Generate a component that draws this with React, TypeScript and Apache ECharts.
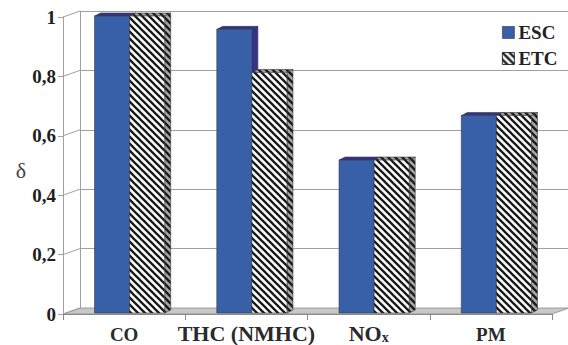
import React, { useEffect, useRef } from 'react';
import * as echarts from 'echarts';

const categories = ['CO', 'THC (NMHC)', 'NOx', 'PM'];
const escValues = [1.0, 0.955, 0.515, 0.665];
const etcValues = [1.0, 0.81, 0.515, 0.665];
const yTicks = [0, 0.2, 0.4, 0.6, 0.8, 1];
const seriesNames = ['ESC', 'ETC'];

const FONT = "'Liberation Serif', 'Times New Roman', serif";
const BLUE = '#3760a9';
const BLUE_SIDE = '#31338c';
const GRID_COLOR = '#a0a0a0';

// depth of the 3D box (front -> back wall)
const DX = 17;
const DY = -6;
// bar placement inside the depth
const SHIFT_X = 5.5;
const SHIFT_Y = -1;
const BD_X = 6;
const BD_Y = -3;
const BAR_FRAC = 0.287;

function makeHatch(bg: string, fg: string, size = 7, lw = 2.3) {
  const c = document.createElement('canvas');
  c.width = size;
  c.height = size;
  const ctx = c.getContext('2d')!;
  ctx.fillStyle = bg;
  ctx.fillRect(0, 0, size, size);
  ctx.strokeStyle = fg;
  ctx.lineWidth = lw;
  ctx.beginPath();
  for (const o of [-size, 0, size]) {
    ctx.moveTo(-1, o - 1);
    ctx.lineTo(size + 1, o + size + 1);
  }
  ctx.stroke();
  return { image: c, repeat: 'repeat', imageWidth: size, imageHeight: size } as any;
}

export default function App() {
  const ref = useRef<HTMLDivElement>(null);

  useEffect(() => {
    if (!ref.current) return;
    document.body.style.margin = '0';
    const chart = echarts.init(ref.current, undefined, { renderer: 'svg' });
    const hatch = makeHatch('#ffffff', '#1a1a1a');
    const hatchGray = makeHatch('#a8a8a8', '#1a1a1a');

    const makeBar = (front: any, top: any, side: any, left: boolean) => (params: any, api: any) => {
      const i = api.value(0);
      const v = api.value(1);
      const p = api.coord([i, v]);
      const b = api.coord([i, 0]);
      const bw = api.size([1, 0])[0] * BAR_FRAC;
      const x0 = p[0] + SHIFT_X - (left ? bw : 0);
      const yT = p[1] + SHIFT_Y;
      const yB = b[1] + SHIFT_Y;
      const st = { stroke: '#3a3a3a', lineWidth: 0.6 };
      return {
        type: 'group',
        children: [
          {
            type: 'polygon',
            shape: { points: [[x0 + bw, yT], [x0 + bw + BD_X, yT + BD_Y], [x0 + bw + BD_X, yB + BD_Y], [x0 + bw, yB]] },
            style: { fill: side, ...st },
          },
          {
            type: 'polygon',
            shape: { points: [[x0, yT], [x0 + bw, yT], [x0 + bw + BD_X, yT + BD_Y], [x0 + BD_X, yT + BD_Y]] },
            style: { fill: top, ...st },
          },
          {
            type: 'rect',
            shape: { x: x0, y: yT, width: bw, height: yB - yT },
            style: { fill: front, ...st },
          },
        ],
      };
    };

    const decoRender = (params: any, api: any) => {
      const cs = params.coordSys;
      const v = api.value(1);
      const y = api.coord([0, v])[1];
      const children: any[] = [];
      if (v === 0) {
        const yb = cs.y + cs.height;
        children.push({
          type: 'polygon',
          shape: {
            points: [
              [cs.x, yb],
              [cs.x + cs.width, yb],
              [cs.x + cs.width + DX, yb + DY],
              [cs.x + DX, yb + DY],
            ],
          },
          style: { fill: '#c8c8c8', stroke: '#8a8a8a', lineWidth: 0.8 },
        });
      }
      children.push({
        type: 'line',
        shape: { x1: cs.x, y1: y, x2: cs.x + DX, y2: y + DY },
        style: { stroke: GRID_COLOR, lineWidth: 1 },
      });
      return { type: 'group', children };
    };

    const fmtY = (v: number) => (v === 0 || v === 1 ? String(v) : v.toFixed(1).replace('.', ','));

    chart.setOption({
      animation: false,
      backgroundColor: '#ffffff',
      grid: [
        { left: 80, right: 0, top: 11, bottom: 37, outerBoundsMode: 'none', containLabel: false },
        { left: 63, right: 16, top: 17, bottom: 31, outerBoundsMode: 'none', containLabel: false },
      ],
      legend: {
        orient: 'vertical',
        left: 497,
        top: 18,
        itemWidth: 12,
        itemHeight: 12,
        itemGap: 7,
        icon: 'rect',
        data: [
          { name: 'ESC', itemStyle: { color: BLUE, borderColor: '#333', borderWidth: 0.6 } },
          { name: 'ETC', itemStyle: { color: hatch, borderColor: '#111', borderWidth: 0.8 } },
        ],
        textStyle: { fontFamily: FONT, fontWeight: 'bold', fontSize: 19, color: '#222', padding: [0, 0, 0, -1] },
      },
      xAxis: [
        { gridIndex: 0, type: 'value', show: false, min: 0, max: 1 },
        {
          gridIndex: 1,
          type: 'category',
          data: categories,
          boundaryGap: true,
          axisLine: { show: true, lineStyle: { color: '#8a8a8a', width: 1 } },
          axisTick: { show: true, interval: 0, length: 6, lineStyle: { color: '#8a8a8a' } },
          axisLabel: {
            interval: 0,
            margin: 8,
            formatter: (v: string) =>
              v === 'NOx' ? '{b|NO}{s|x}' : v === 'THC (NMHC)' ? '{b|THC (NMHC)}' : '{a|' + v + '}',
            rich: {
              a: { fontFamily: FONT, fontWeight: 'bold', fontSize: 19, color: '#2a2a2a', padding: [3, 0, 0, 0] },
              b: { fontFamily: FONT, fontWeight: 'bold', fontSize: 22, color: '#2a2a2a' },
              s: { fontFamily: FONT, fontWeight: 'bold', fontSize: 14, color: '#2a2a2a', padding: [8, 0, 0, 0] },
            },
          },
        },
      ],
      yAxis: [
        {
          gridIndex: 0,
          type: 'value',
          min: 0,
          max: 1,
          interval: 0.2,
          axisLine: { show: true, lineStyle: { color: GRID_COLOR } },
          axisTick: { show: false },
          axisLabel: { show: false },
          splitLine: { show: true, lineStyle: { color: GRID_COLOR, width: 1 } },
        },
        {
          gridIndex: 0,
          type: 'value',
          position: 'right',
          min: 0,
          max: 1,
          interval: 0.2,
          axisLine: { show: true, lineStyle: { color: GRID_COLOR } },
          axisTick: { show: false },
          axisLabel: { show: false },
          splitLine: { show: false },
        },
        {
          gridIndex: 1,
          type: 'value',
          min: 0,
          max: 1,
          interval: 0.2,
          name: 'δ',
          nameLocation: 'middle',
          nameRotate: 0,
          nameGap: 37,
          nameTextStyle: { fontFamily: FONT, fontSize: 22, color: '#444', verticalAlign: 'top', padding: [-6, 0, 0, 0] },
          axisLine: { show: true, lineStyle: { color: GRID_COLOR } },
          axisTick: { show: true, length: 5, lineStyle: { color: GRID_COLOR } },
          axisLabel: {
            margin: 7,
            formatter: fmtY,
            fontFamily: FONT,
            fontWeight: 'bold',
            fontSize: 19,
            color: '#1e1e1e',
          },
          splitLine: { show: false },
        },
      ],
      series: [
        {
          name: 'deco',
          type: 'custom',
          xAxisIndex: 1,
          yAxisIndex: 2,
          silent: true,
          z: 1,
          data: yTicks.map((v) => [0, v]),
          renderItem: decoRender,
        },
        {
          name: seriesNames[0],
          type: 'custom',
          xAxisIndex: 1,
          yAxisIndex: 2,
          z: 3,
          itemStyle: { color: BLUE },
          encode: { x: 0, y: 1 },
          data: escValues.map((v, i) => [i, v]),
          renderItem: makeBar(BLUE, BLUE_SIDE, BLUE_SIDE, true),
        },
        {
          name: seriesNames[1],
          type: 'custom',
          xAxisIndex: 1,
          yAxisIndex: 2,
          z: 4,
          itemStyle: { color: hatch },
          encode: { x: 0, y: 1 },
          data: etcValues.map((v, i) => [i, v]),
          renderItem: makeBar(hatch, hatchGray, hatchGray, false),
        },
      ],
    });

    return () => chart.dispose();
  }, []);

  return <div ref={ref} style={{ width: 568, height: 345 }} />;
}
